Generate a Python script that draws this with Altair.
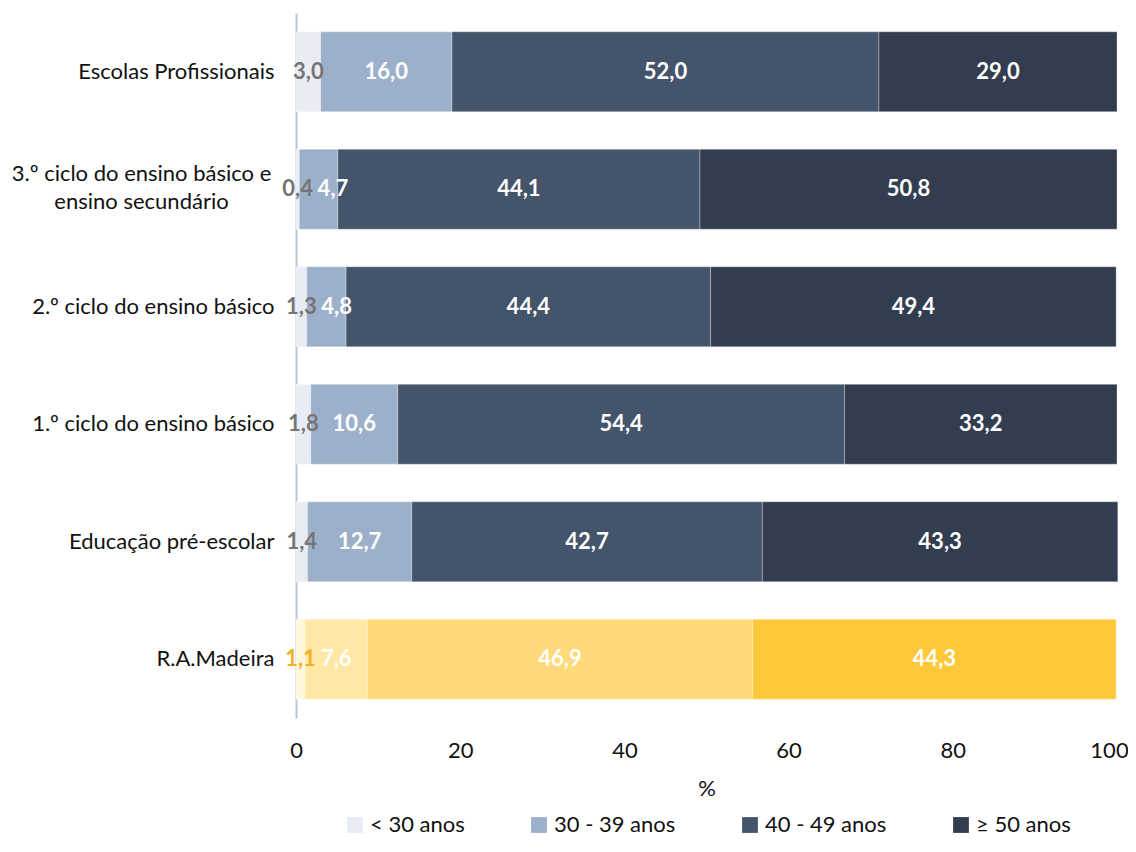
import altair as alt
import pandas as pd

categories = [
    "Escolas Profissionais",
    "3.º ciclo do ensino básico e ensino secundário",
    "2.º ciclo do ensino básico",
    "1.º ciclo do ensino básico",
    "Educação pré-escolar",
    "R.A.Madeira",
]
age_groups = ["< 30 anos", "30 - 39 anos", "40 - 49 anos", "≥ 50 anos"]

v_lt30 = [3.0, 0.4, 1.3, 1.8, 1.4, 1.1]
v_30_39 = [16.0, 4.7, 4.8, 10.6, 12.7, 7.6]
v_40_49 = [52.0, 44.1, 44.4, 54.4, 42.7, 46.9]
v_ge50 = [29.0, 50.8, 49.4, 33.2, 43.3, 44.3]

blue_colors = ["#E8EDF5", "#9DB0CA", "#44546A", "#333D50"]
madeira_colors = ["#FFF7D9", "#FFE8A6", "#FFD97A", "#FFC73A"]
label_colors = ["#757575", "#FFFFFF", "#FFFFFF", "#FFFFFF"]
madeira_label_colors = ["#F2B028", "#FFFFFF", "#FFFFFF", "#FFFFFF"]

rows = []
series = [v_lt30, v_30_39, v_40_49, v_ge50]
for ci, cat in enumerate(categories):
    mad = cat == "R.A.Madeira"
    for ai, age in enumerate(age_groups):
        rows.append({
            "cat": cat,
            "age": age,
            "idx": ai,
            "v": series[ai][ci],
            "mad": mad,
            "madcolor": madeira_colors[ai],
            "lblcolor": (madeira_label_colors if mad else label_colors)[ai],
        })
df = pd.DataFrame(rows)

FONT = "Lato"
FS = 22
two_line = categories[1]
is_two = f"datum.value == '{two_line}'"

y_enc = alt.Y(
    "cat:N",
    sort=categories,
    scale=alt.Scale(paddingInner=0.32, paddingOuter=0.16),
    axis=alt.Axis(
        title=None,
        ticks=False,
        domainColor="#B8C5DA",
        domainWidth=2,
        labelFont=FONT,
        labelFontSize=FS,
        labelColor="#111111",
        labelLimit=400,
        labelLineHeight=28,
        labelExpr=f"{is_two} ? ['3.º ciclo do ensino básico e', 'ensino secundário'] : datum.value",
        labelAlign={"condition": {"test": is_two, "value": "center"}, "value": "right"},
        labelPadding={"condition": {"test": is_two, "value": 155}, "value": 22},
        labelOffset={"condition": {"test": is_two, "value": -15}, "value": 0},
    ),
)

x_enc = alt.X(
    "v:Q",
    stack="zero",
    scale=alt.Scale(domain=[0, 100], nice=False),
    axis=alt.Axis(
        title="%",
        values=[0, 20, 40, 60, 80, 100],
        domain=False,
        ticks=False,
        grid=False,
        labelFlush=False,
        labelOffset={"condition": {"test": "datum.value == 100", "value": -8}, "value": 0},
        labelFont=FONT,
        labelFontSize=FS,
        labelColor="#111111",
        labelPadding=22,
        titleFont=FONT,
        titleFontSize=FS,
        titleFontWeight="normal",
        titleColor="#111111",
        titlePadding=17,
    ),
)

base = alt.Chart(df)

bars_blue = base.transform_filter("!datum.mad").mark_bar(
    stroke="#FFFFFF", strokeWidth=0.5, strokeOpacity=0.6
).encode(
    x=x_enc,
    y=y_enc,
    order=alt.Order("idx:Q"),
    color=alt.Color(
        "age:N",
        sort=age_groups,
        scale=alt.Scale(domain=age_groups, range=blue_colors),
        legend=alt.Legend(
            title=None,
            orient="none",
            direction="horizontal",
            legendX=48,
            legendY=801,
            symbolType="square",
            symbolSize=250,
            symbolStrokeWidth=0,
            labelFont=FONT,
            labelFontSize=FS,
            labelColor="#111111",
            columnPadding=63,
            labelOffset=4,
        ),
    ),
)

bars_mad = base.transform_filter("datum.mad").mark_bar(
    stroke="#FFFFFF", strokeWidth=0.5, strokeOpacity=0.6
).encode(
    x=alt.X("v:Q", stack="zero"),
    y=alt.Y("cat:N", sort=categories),
    order=alt.Order("idx:Q"),
    color=alt.Color("madcolor:N", scale=None, legend=None),
)

labels = base.transform_window(
    cum="sum(v)", groupby=["cat"], sort=[alt.SortField("idx")], frame=[None, 0]
).transform_calculate(
    mid="datum.cum - datum.v / 2",
    txt="replace(format(datum.v, '.1f'), '.', ',')",
).transform_window(
    prevmid="lag(mid)", groupby=["cat"], sort=[alt.SortField("idx")]
).transform_calculate(
    lx="isValid(datum.prevmid) ? max(datum.mid, datum.prevmid + 4.3) : datum.mid"
).mark_text(font=FONT, fontSize=FS, fontWeight="bold", baseline="middle", align="center").encode(
    x=alt.X("lx:Q"),
    y=alt.Y("cat:N", sort=categories),
    text="txt:N",
    color=alt.Color("lblcolor:N", scale=None, legend=None),
)

chart = alt.layer(bars_blue, bars_mad, labels).properties(
    width=821,
    height=705,
    autosize=alt.AutoSizeParams(type="none"),
    padding={"left": 288, "top": 5, "right": 11, "bottom": 120},
).configure(background="#FFFFFF").configure_view(strokeWidth=0, stroke="transparent")

chart.save("out.html", embed_options={"renderer": "svg", "actions": False})
